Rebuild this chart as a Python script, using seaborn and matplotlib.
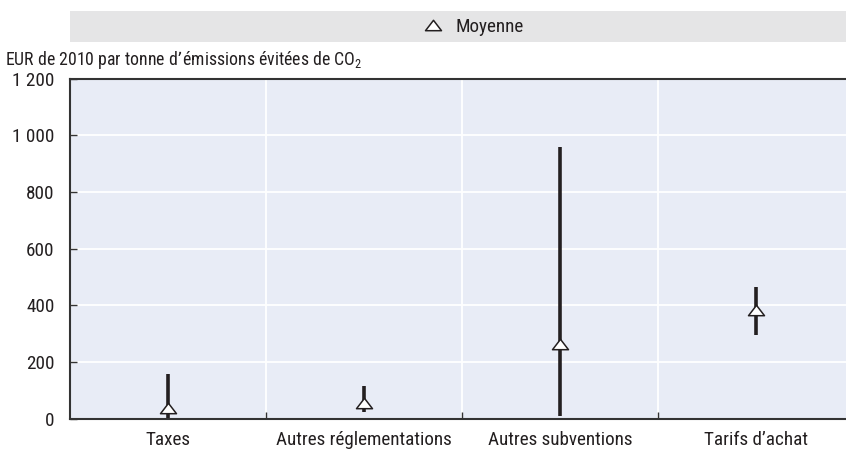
import numpy as np
import pandas as pd
import seaborn as sns
import matplotlib
matplotlib.use("Agg")
import matplotlib.pyplot as plt
from matplotlib import font_manager
from matplotlib.path import Path
from matplotlib.patches import Rectangle
from matplotlib.lines import Line2D
from matplotlib.ticker import FixedLocator, FuncFormatter

# Cost ranges of abatement instruments (EUR 2010 per tonne of CO2 avoided)
categories = ["Taxes", "Autres réglementations", "Autres subventions", "Tarifs d’achat"]
minimum = [2, 23, 10, 295]
moyenne = [38, 55, 264, 383]
maximum = [158, 114, 960, 466]
y_ticks = [0, 200, 400, 600, 800, 1000, 1200]

ylabel = "EUR de 2010 par tonne d’émissions évitées de CO$_2$"
legend_label = "Moyenne"


def pick_font(candidates):
    for fam in candidates:
        try:
            font_manager.findfont(fam, fallback_to_default=False)
            return fam
        except Exception:
            continue
    return "DejaVu Sans"


sns.set_theme(style="white")
font = pick_font(["Liberation Sans Narrow", "Roboto Condensed", "Arial Narrow",
                  "Liberation Sans", "Roboto"])
plt.rcParams["font.family"] = [font, "DejaVu Sans"]
plt.rcParams["mathtext.default"] = "regular"

INK = "#231f20"
SPINE = "#333333"
FS = 13.8

df = pd.DataFrame({"categorie": categories, "moyenne": moyenne})

fig = plt.figure(figsize=(8.46, 4.5), dpi=100)
W, H = 846, 450
ax = fig.add_axes([70 / W, 1 - 418.7 / H, 784 / W, (418.7 - 78.6) / H])
ax.set_facecolor("#e8ecf6")

# Wide, flat open triangle for the mean
tri = Path([(0, 0.65), (-1, -0.65), (1, -0.65), (0, 0.65)], closed=True)

pos = np.arange(len(categories))
ax.vlines(pos, minimum, maximum, color=INK, linewidth=2.6, zorder=3)

sns.pointplot(data=df, x="categorie", y="moyenne", order=categories,
              errorbar=None, linestyle="none", markers=tri, color=INK,
              markerfacecolor="white", markeredgecolor=INK,
              markersize=11.5, markeredgewidth=1.1, zorder=5, ax=ax)

ax.set_xlim(-0.5, len(categories) - 0.5)
ax.set_ylim(0, 1200)
ax.set_xlabel("")
ax.set_ylabel("")

# Ticks: labels at category centres, marks on category boundaries
ax.xaxis.set_minor_locator(FixedLocator(np.arange(0.5, len(categories) - 0.5, 1)))
ax.tick_params(axis="x", which="major", length=0, pad=9, labelsize=FS, colors=INK)
ax.tick_params(axis="x", which="minor", direction="in", length=5, width=1,
               color=SPINE, bottom=True)
ax.set_yticks(y_ticks)
ax.yaxis.set_major_formatter(FuncFormatter(lambda v, p: f"{v:,.0f}".replace(",", " ")))
ax.tick_params(axis="y", direction="in", length=5, width=1, color=SPINE,
               pad=11, labelsize=FS, labelcolor=INK, left=True)

ax.grid(False)
ax.yaxis.grid(True, which="major", color="white", linewidth=1.3)
ax.xaxis.grid(True, which="minor", color="white", linewidth=1.3)
ax.set_axisbelow(True)

for side in ["left", "bottom", "top"]:
    ax.spines[side].set_visible(True)
    ax.spines[side].set_color(SPINE)
    ax.spines[side].set_linewidth(1.5)
ax.spines["right"].set_visible(False)

# Legend band
fig.patches.append(Rectangle((70 / W, 1 - 41.7 / H), (W - 70) / W, 30.7 / H,
                             transform=fig.transFigure, facecolor="#e5e5e6",
                             edgecolor="none", zorder=0))
handle = Line2D([], [], marker=tri, linestyle="none", markerfacecolor="white",
                markeredgecolor=INK, markersize=11.5, markeredgewidth=1.1)
fig.legend(handles=[handle], labels=[legend_label], loc="center",
           bbox_to_anchor=(473 / W, 1 - 26.5 / H), frameon=False, fontsize=FS,
           handlelength=1.1, handletextpad=0.6, labelcolor=INK)

fig.text(5 / W, 1 - 60 / H, ylabel, ha="left", va="center", fontsize=12.8, color=INK)

fig.savefig("out.png", dpi=100)
